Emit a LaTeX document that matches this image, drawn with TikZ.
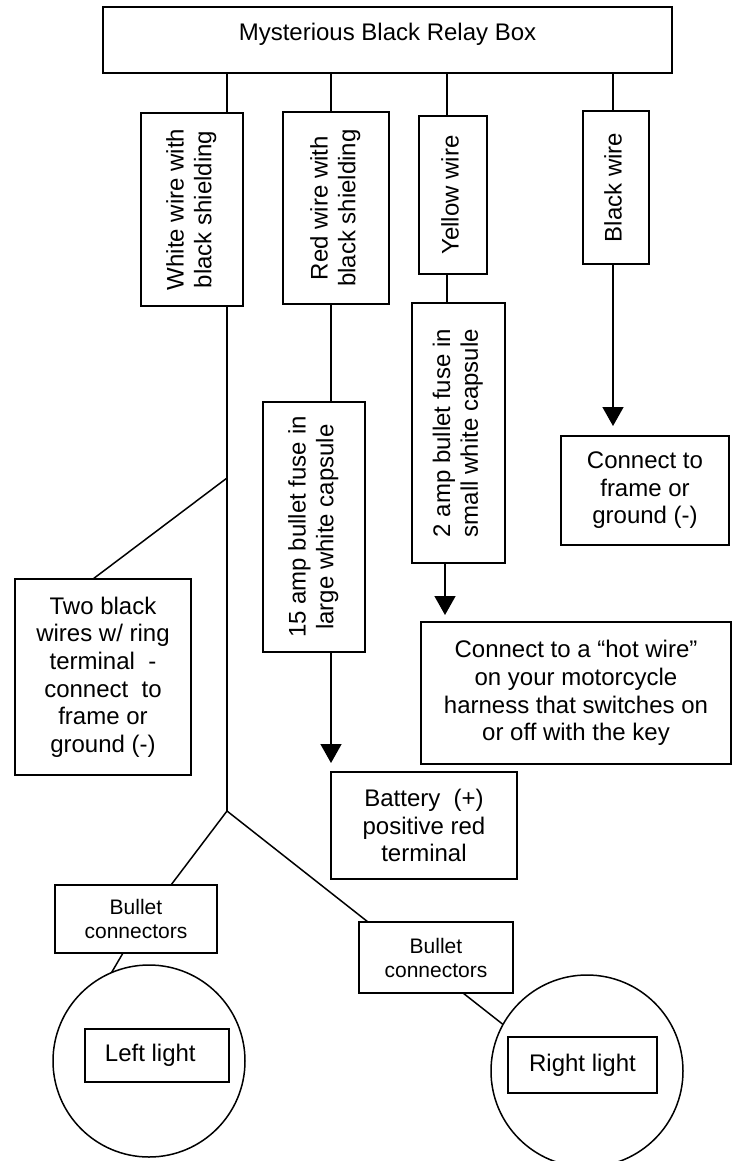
\documentclass[tikz,border=0pt]{standalone}
\usepackage{fontspec}
\setmainfont{Liberation Sans}
\usepackage{graphicx}
\usetikzlibrary{arrows.meta}
\newcommand{\vtext}[1]{\rotatebox{90}{\begin{tabular}{@{}c@{}}#1\end{tabular}}}
\begin{document}
\begin{tikzpicture}[x=1pt,y=-1pt,
  line width=1.5pt,
  box/.style={draw, rectangle, inner sep=0pt, outer sep=0pt, align=center,
    font=\fontsize{24}{27.6}\selectfont},
  smallbox/.style={box, font=\fontsize{21}{24}\selectfont},
  ring/.style={draw, circle, inner sep=0pt, outer sep=0pt, minimum size=192pt},
  arr/.style={-{Triangle[length=19pt,width=21pt]}}]
\useasboundingbox (0,0) rectangle (733,1161);
\clip (0,0) rectangle (733,1161);

% main boxes
\node[box, minimum width=569pt, minimum height=66pt, text height=14pt, text depth=12pt] (top) at (387.5,40) {Mysterious Black Relay Box};
\node[box, minimum width=102pt, minimum height=193pt] (white) at (192,209.5) {\vtext{White wire with\\black shielding}};
\node[box, minimum width=106pt, minimum height=192pt] (red) at (336,208) {\vtext{Red wire with\\black shielding}};
\node[box, minimum width=68pt, minimum height=158pt] (yel) at (453,195) {\vtext{Yellow wire}};
\node[box, minimum width=66pt, minimum height=153pt] (blk) at (616,187.5) {\vtext{Black wire}};
\node[box, minimum width=102pt, minimum height=250pt] (fuse15) at (314,527) {\vtext{15 amp bullet fuse in\\large white capsule}};
\node[box, minimum width=93pt, minimum height=260pt] (fuse2) at (458.5,433) {\vtext{2 amp bullet fuse in\\small white capsule}};
\node[box, minimum width=168pt, minimum height=109pt] (gnd) at (645,490.5) {Connect to\\frame or\\ground (-)};
\node[box, minimum width=310pt, minimum height=142pt] (hot) at (576,693) {Connect to a “hot wire”\\on your motorcycle\\harness that switches on\\or off with the key};
\node[box, minimum width=176pt, minimum height=196pt] (two) at (103,677) {Two black\\wires w/ ring\\terminal\ \ -\\connect\ \ to\\frame or\\ground (-)};
\node[box, minimum width=186pt, minimum height=107pt] (batt) at (424,825.5) {Battery\ \ (+)\\positive red\\terminal};
\node[smallbox, minimum width=162pt, minimum height=68pt] (bulL) at (136,919) {Bullet\\connectors};
\node[smallbox, minimum width=154pt, minimum height=71pt] (bulR) at (436,957.5) {Bullet\\connectors};
\node[ring] (lc) at (149,1061) {};
\node[ring] (rc) at (587,1071) {};
\node[box, minimum width=144pt, minimum height=53pt] (ll) at (157,1055.5) {Left light\ \ };
\node[box, minimum width=149pt, minimum height=56pt] (rl) at (582.5,1065) {Right light};

% helper x positions
\coordinate (xW) at (227,0);
\coordinate (xR) at (331,0);
\coordinate (xY) at (447,0);
\coordinate (xYa) at (445,0);
\coordinate (xB) at (613,0);
\coordinate (xT) at (93,0);
\coordinate (xa) at (171,0);
\coordinate (xb) at (368,0);
\coordinate (xc) at (123,0);
\coordinate (xd) at (463,0);
\coordinate (j1) at (227,478);
\coordinate (br) at (227,811);

% connectors
\draw (top.south -| xW) -- (white.north -| xW);
\draw (top.south -| xR) -- (red.north -| xR);
\draw (top.south -| xY) -- (yel.north -| xY);
\draw (top.south -| xB) -- (blk.north -| xB);
\draw[arr, shorten >=10pt] (blk.south -| xB) -- (gnd.north -| xB);
\draw (yel.south -| xY) -- (fuse2.north -| xY);
\draw[arr, shorten >=7pt] (fuse2.south -| xYa) -- (hot.north -| xYa);
\draw (red.south -| xR) -- (fuse15.north -| xR);
\draw[arr, shorten >=9pt] (fuse15.south -| xR) -- (batt.north -| xR);
\draw (white.south -| xW) -- (br);
\draw (j1) -- (two.north -| xT);
\draw (br) -- (bulL.north -| xa);
\draw (br) -- (bulR.north -| xb);
\draw (bulL.south -| xc) -- (lc.113.7);
\draw (bulR.south -| xd) -- (rc.151.3);
\end{tikzpicture}
\end{document}
